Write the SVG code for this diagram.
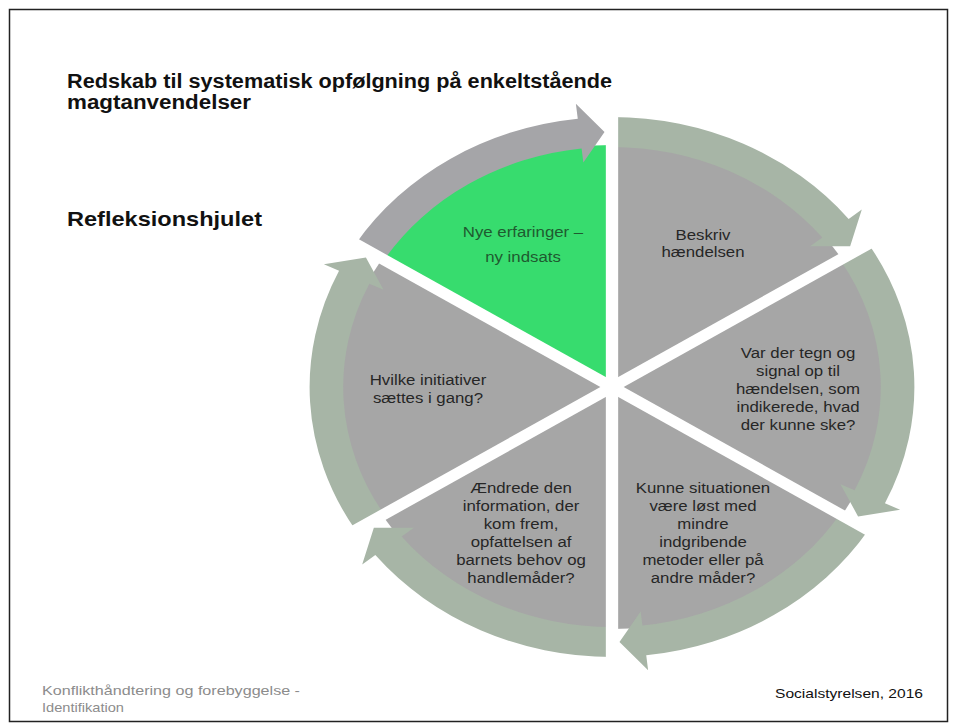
<svg xmlns="http://www.w3.org/2000/svg" width="959" height="726" viewBox="0 0 959 726">
<style>
.t{font-family:"Liberation Sans",Arial,sans-serif;font-size:15px;fill:#262626;text-anchor:middle}
.ttl{font-family:"Liberation Sans",Arial,sans-serif;font-weight:bold;fill:#111}
.ft{font-family:"Liberation Sans",Arial,sans-serif;font-size:13px}
.pie{fill:#a6a6a6}
.arr{fill:#a7b5a6}
.gap{stroke:#fff;stroke-width:11;fill:none}
</style>
<rect x="0" y="0" width="959" height="726" fill="#fff"/>
<rect x="9.5" y="9.5" width="938" height="712" fill="none" stroke="#222" stroke-width="1.5"/>
<text class="ttl" x="67" y="88" font-size="20" textLength="545" lengthAdjust="spacingAndGlyphs">Redskab til systematisk opfølgning på enkeltstående</text>
<text class="ttl" x="67" y="109" font-size="20" textLength="184" lengthAdjust="spacingAndGlyphs">magtanvendelser</text>
<text class="ttl" x="67" y="226" font-size="21" textLength="195" lengthAdjust="spacingAndGlyphs">Refleksionshjulet</text>
<g id="wheel-slices" transform="translate(612,387) scale(1.12,1)">
<g id="node-beskriv"><path class="pie" d="M0,0 L0,-242 A242,242 0 0 1 205.2,-128.2 Z"/></g>
<g id="node-tegn"><path class="pie" d="M0,0 L205.2,-128.2 A242,242 0 0 1 205.2,128.2 Z"/></g>
<g id="node-kunne"><path class="pie" d="M0,0 L205.2,128.2 A242,242 0 0 1 0,242 Z"/></g>
<g id="node-aendrede"><path class="pie" d="M0,0 L0,242 A242,242 0 0 1 -205.2,128.2 Z"/></g>
<g id="node-hvilke"><path class="pie" d="M0,0 L-205.2,128.2 A242,242 0 0 1 -205.2,-128.2 Z"/></g>
<g id="node-nye"><path fill="#37dc6e" d="M0,0 L-205.2,-128.2 A242,242 0 0 1 0,-242 Z"/></g>
</g>
<g id="connectors" transform="translate(612,387) scale(1.12,1)">
<path class="arr" d="M0,-270 A270,270 0 0 1 211.30,-168.08 L223.04,-177.41 L212.64,-140.73 L176.87,-140.69 L187.82,-149.40 A240,240 0 0 0 0,-240 Z"/>
<path class="arr" d="M228.96,-143.07 A270,270 0 0 1 243.70,116.24 L257.24,122.69 L219.71,129.41 L203.99,97.29 L216.62,103.32 A240,240 0 0 0 203.52,-127.18 Z"/>
<path class="arr" d="M228.96,143.07 A270,270 0 0 1 30.56,268.27 L32.26,283.18 L6.68,254.91 L25.58,224.55 L27.17,238.46 A240,240 0 0 0 203.52,127.18 Z"/>
<path class="arr" d="M0,270 A270,270 0 0 1 -211.30,168.08 L-223.04,177.41 L-212.64,140.73 L-176.87,140.69 L-187.82,149.40 A240,240 0 0 0 0,240 Z"/>
<path class="arr" d="M-228.96,143.07 A270,270 0 0 1 -243.70,-116.24 L-257.24,-122.69 L-219.71,-129.41 L-203.99,-97.29 L-216.62,-103.32 A240,240 0 0 0 -203.52,127.18 Z"/>
<path fill="#a5a5a8" d="M-228.96,-143.07 A270,270 0 0 1 -30.56,-268.27 L-32.26,-283.18 L-6.68,-254.91 L-25.58,-224.55 L-27.17,-238.46 A240,240 0 0 0 -203.52,-127.18 Z"/>
<line class="gap" x1="0" y1="-300" x2="0" y2="300"/>
<line class="gap" x1="254.4" y1="-159" x2="-254.4" y2="159"/>
<line class="gap" x1="254.4" y1="159" x2="-254.4" y2="-159"/>
</g>
<g id="labels">
<g id="label-nye" transform="translate(523,0) scale(1.12,1)"><text class="t" x="0" y="237" style="fill:#1f5a30">Nye erfaringer –</text><text class="t" x="0" y="262" style="fill:#1f5a30">ny indsats</text></g>
<g id="label-beskriv" transform="translate(703,0) scale(1.12,1)"><text class="t" x="0" y="240">Beskriv</text><text class="t" x="0" y="257">hændelsen</text></g>
<g id="label-tegn" transform="translate(798,0) scale(1.12,1)"><text class="t" x="0" y="358">Var der tegn  og</text><text class="t" x="0" y="376">signal op til</text><text class="t" x="0" y="394">hændelsen, som</text><text class="t" x="0" y="412">indikerede, hvad</text><text class="t" x="0" y="430">der kunne ske?</text></g>
<g id="label-kunne" transform="translate(703,0) scale(1.12,1)"><text class="t" x="0" y="493">Kunne situationen</text><text class="t" x="0" y="511">være løst med</text><text class="t" x="0" y="529">mindre</text><text class="t" x="0" y="547">indgribende</text><text class="t" x="0" y="565">metoder eller på</text><text class="t" x="0" y="583">andre måder?</text></g>
<g id="label-aendrede" transform="translate(521,0) scale(1.12,1)"><text class="t" x="0" y="493">Ændrede den</text><text class="t" x="0" y="511">information, der</text><text class="t" x="0" y="529">kom frem,</text><text class="t" x="0" y="547">opfattelsen af</text><text class="t" x="0" y="565">barnets behov og</text><text class="t" x="0" y="583">handlemåder?</text></g>
<g id="label-hvilke" transform="translate(428,0) scale(1.12,1)"><text class="t" x="0" y="385">Hvilke initiativer</text><text class="t" x="0" y="403">sættes i gang?</text></g>
</g>
<text class="ft" x="42" y="695" fill="#8c8c8c" textLength="258" lengthAdjust="spacingAndGlyphs">Konflikthåndtering  og forebyggelse -</text>
<text class="ft" x="42" y="712" fill="#8c8c8c" textLength="82" lengthAdjust="spacingAndGlyphs">Identifikation</text>
<text class="ft" x="775" y="698" fill="#111" font-size="13.5" textLength="148" lengthAdjust="spacingAndGlyphs">Socialstyrelsen, 2016</text>
</svg>
